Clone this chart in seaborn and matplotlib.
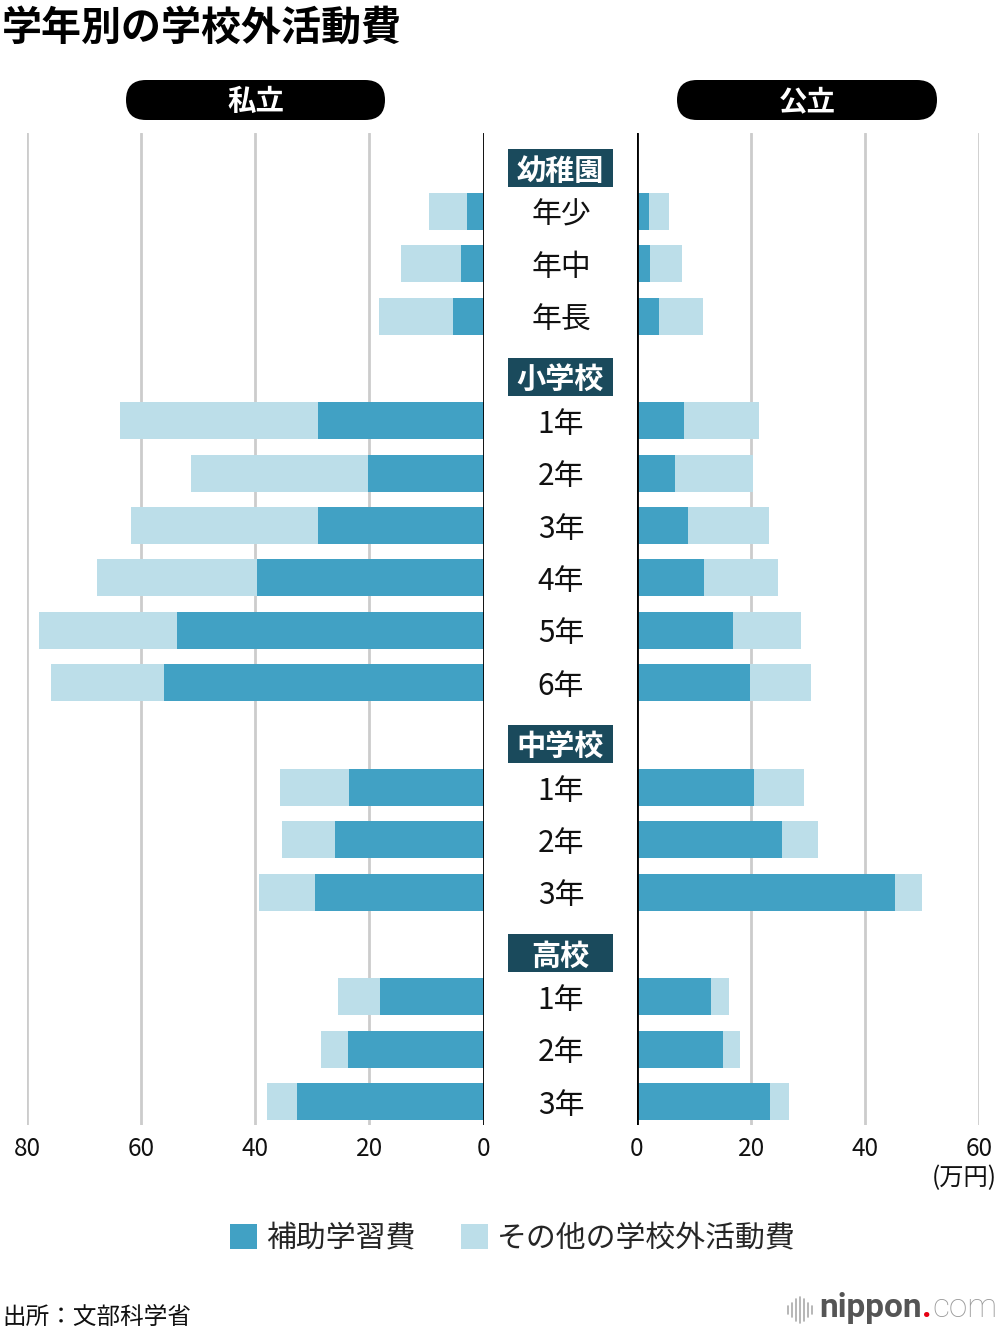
import numpy as np
import pandas as pd
import matplotlib.pyplot as plt
import matplotlib.transforms as mtransforms
from matplotlib.patches import FancyBboxPatch, Rectangle, Patch
from matplotlib.lines import Line2D
import seaborn as sns

# 学年別の学校外活動費（万円）
groups = ['幼稚園', '小学校', '中学校', '高校']
grades = [['年少', '年中', '年長'],
          ['1年', '2年', '3年', '4年', '5年', '6年'],
          ['1年', '2年', '3年'],
          ['1年', '2年', '3年']]

# 私立：補助学習費と合計
private_hojo = [2.9, 3.9, 5.4, 29.1, 20.2, 29.0, 39.8, 53.8, 56.0, 23.5, 26.1, 29.5, 18.2, 23.8, 32.7]
private_total = [9.6, 14.5, 18.4, 63.8, 51.3, 61.8, 67.8, 77.9, 75.8, 35.7, 35.4, 39.4, 25.6, 28.5, 38.0]
# 公立：補助学習費と合計
public_hojo = [2.1, 2.3, 3.9, 8.2, 6.7, 8.9, 11.7, 16.8, 19.8, 20.5, 25.5, 45.3, 13.0, 15.0, 23.4]
public_total = [5.6, 7.9, 11.6, 21.3, 20.3, 23.1, 24.8, 28.8, 30.5, 29.3, 31.7, 50.0, 16.1, 18.1, 26.7]

private_ticks = [80, 60, 40, 20, 0]
public_ticks = [0, 20, 40, 60]
legend_labels = ['補助学習費', 'その他の学校外活動費']

DARK = '#41a1c4'
LIGHT = '#bcdee9'
HEAD = '#1a4a5c'

sns.set_theme(style='white')
plt.rcParams['font.family'] = ['Noto Sans CJK JP', 'DejaVu Sans']

# 行の位置（グループの間に1行あける）
pos = []
header_pos = []
k = 0
for g in grades:
    header_pos.append(k - 0.83)
    pos.extend(range(k, k + len(g)))
    k += len(g) + 1
labels = sum(grades, [])

df = pd.DataFrame({'pos': pos, 'label': labels,
                   'private_hojo': private_hojo, 'private_total': private_total,
                   'public_hojo': public_hojo, 'public_total': public_total})

W, H = 1000, 1336
fig = plt.figure(figsize=(W / 100, H / 100), dpi=100)

top, bottom = 133, 1125
axL = fig.add_axes([27.3 / W, 1 - bottom / H, 456.2 / W, (bottom - top) / H])
axR = fig.add_axes([637 / W, 1 - bottom / H, 342.3 / W, (bottom - top) / H])


def draw_side(ax, col, xlim, ticks):
    sns.barplot(data=df, x=col + '_total', y='pos', orient='h', native_scale=True,
                color=LIGHT, saturation=1, width=0.706, errorbar=None, linewidth=0, ax=ax)
    sns.barplot(data=df, x=col + '_hojo', y='pos', orient='h', native_scale=True,
                color=DARK, saturation=1, width=0.706, errorbar=None, linewidth=0, ax=ax)
    ax.set_xlim(*xlim)
    ax.set_ylim(17.45, -1.50)
    ax.set_xticks(ticks)
    ax.set_xticklabels([str(t) for t in ticks])
    ax.set_yticks([])
    ax.set_xlabel('')
    ax.set_ylabel('')
    ax.tick_params(axis='x', length=0, pad=8, labelsize=17.5, labelcolor='#111111')
    ax.grid(axis='x', color='#cccccc', linewidth=2)
    ax.set_axisbelow(True)
    ax.axvline(0, color='black', linewidth=2, zorder=5)
    for s in ax.spines.values():
        s.set_visible(False)


draw_side(axL, 'private', (80, 0), private_ticks)
draw_side(axR, 'public', (0, 60), public_ticks)

# 中央のラベル
trans = mtransforms.blended_transform_factory(fig.transFigure, axR.transData)
for p, lab in zip(pos, labels):
    axR.text(0.561, p + 0.07, lab, transform=trans, ha='center', va='center',
             fontsize=21.5, color='#111111', clip_on=False)
for p, g in zip(header_pos, groups):
    rect = Rectangle((0.508, p - 0.363), 0.105, 0.726, transform=trans,
                     facecolor=HEAD, edgecolor='none', clip_on=False)
    axR.add_patch(rect)
    axR.text(0.5605, p + 0.05, g, transform=trans, ha='center', va='center',
             fontsize=21, fontweight='bold', color='white', clip_on=False)

# タイトル
fig.text(0.002, 1 - 28 / H, '学年別の学校外活動費', ha='left', va='center',
         fontsize=28.8, fontweight='bold', color='black')

# 私立・公立のラベル
for x0, x1, txt in [(126, 385, '私立'), (677, 937, '公立')]:
    pill = FancyBboxPatch((x0 / 100, (H - 120) / 100), (x1 - x0) / 100, 0.40,
                          boxstyle='round,pad=0,rounding_size=0.2',
                          transform=fig.dpi_scale_trans, facecolor='black', edgecolor='none')
    fig.add_artist(pill)
    fig.text((x0 + x1) / 2 / W, 1 - 102 / H, txt, ha='center', va='center',
             fontsize=20.5, fontweight='bold', color='white')

# 単位
fig.text(0.997, 1 - 1178 / H, '(万円)', ha='right', va='center', fontsize=17.5, color='#111111')

# 凡例
handles = [Patch(facecolor=DARK, edgecolor='none'), Patch(facecolor=LIGHT, edgecolor='none')]
fig.legend(handles, legend_labels, loc='center', bbox_to_anchor=(0.513, 1 - 1238 / H),
           ncol=2, frameon=False, fontsize=21.5, handlelength=0.9, handleheight=0.9,
           handletextpad=0.33, columnspacing=1.5)

# 出所
fig.text(0.002, 1 - 1317 / H, '出所：文部科学省', ha='left', va='center', fontsize=17, color='#111111')

# ロゴ
fig.canvas.draw()
r = fig.canvas.get_renderer()
ly = 1 - 1308 / H
t = fig.text(0.997, ly, 'com', ha='right', va='center', fontsize=24, color='#9a9a9a',
             family=['Roboto', 'DejaVu Sans'], fontweight='light')
bb = t.get_window_extent(r)
t = fig.text(bb.x0 / W, ly, '.', ha='right', va='center', fontsize=24, color='#e60012',
             family=['Roboto', 'DejaVu Sans'], fontweight='bold')
bb = t.get_window_extent(r)
t = fig.text(bb.x0 / W, ly, 'nippon', ha='right', va='center', fontsize=24, color='#555555',
             family=['Roboto', 'DejaVu Sans'], fontweight='bold')
bb = t.get_window_extent(r)
x_end = bb.x0 / 100 - 0.08
for i, h in enumerate([8, 14, 22, 26, 22, 14, 8]):
    xx = x_end - (6 - i) * 0.04
    fig.add_artist(Line2D([xx, xx], [(H - 1310 - h / 2) / 100, (H - 1310 + h / 2) / 100],
                          transform=fig.dpi_scale_trans, color='#aaaaaa', linewidth=1.2))

fig.savefig('out.png', dpi=100)
